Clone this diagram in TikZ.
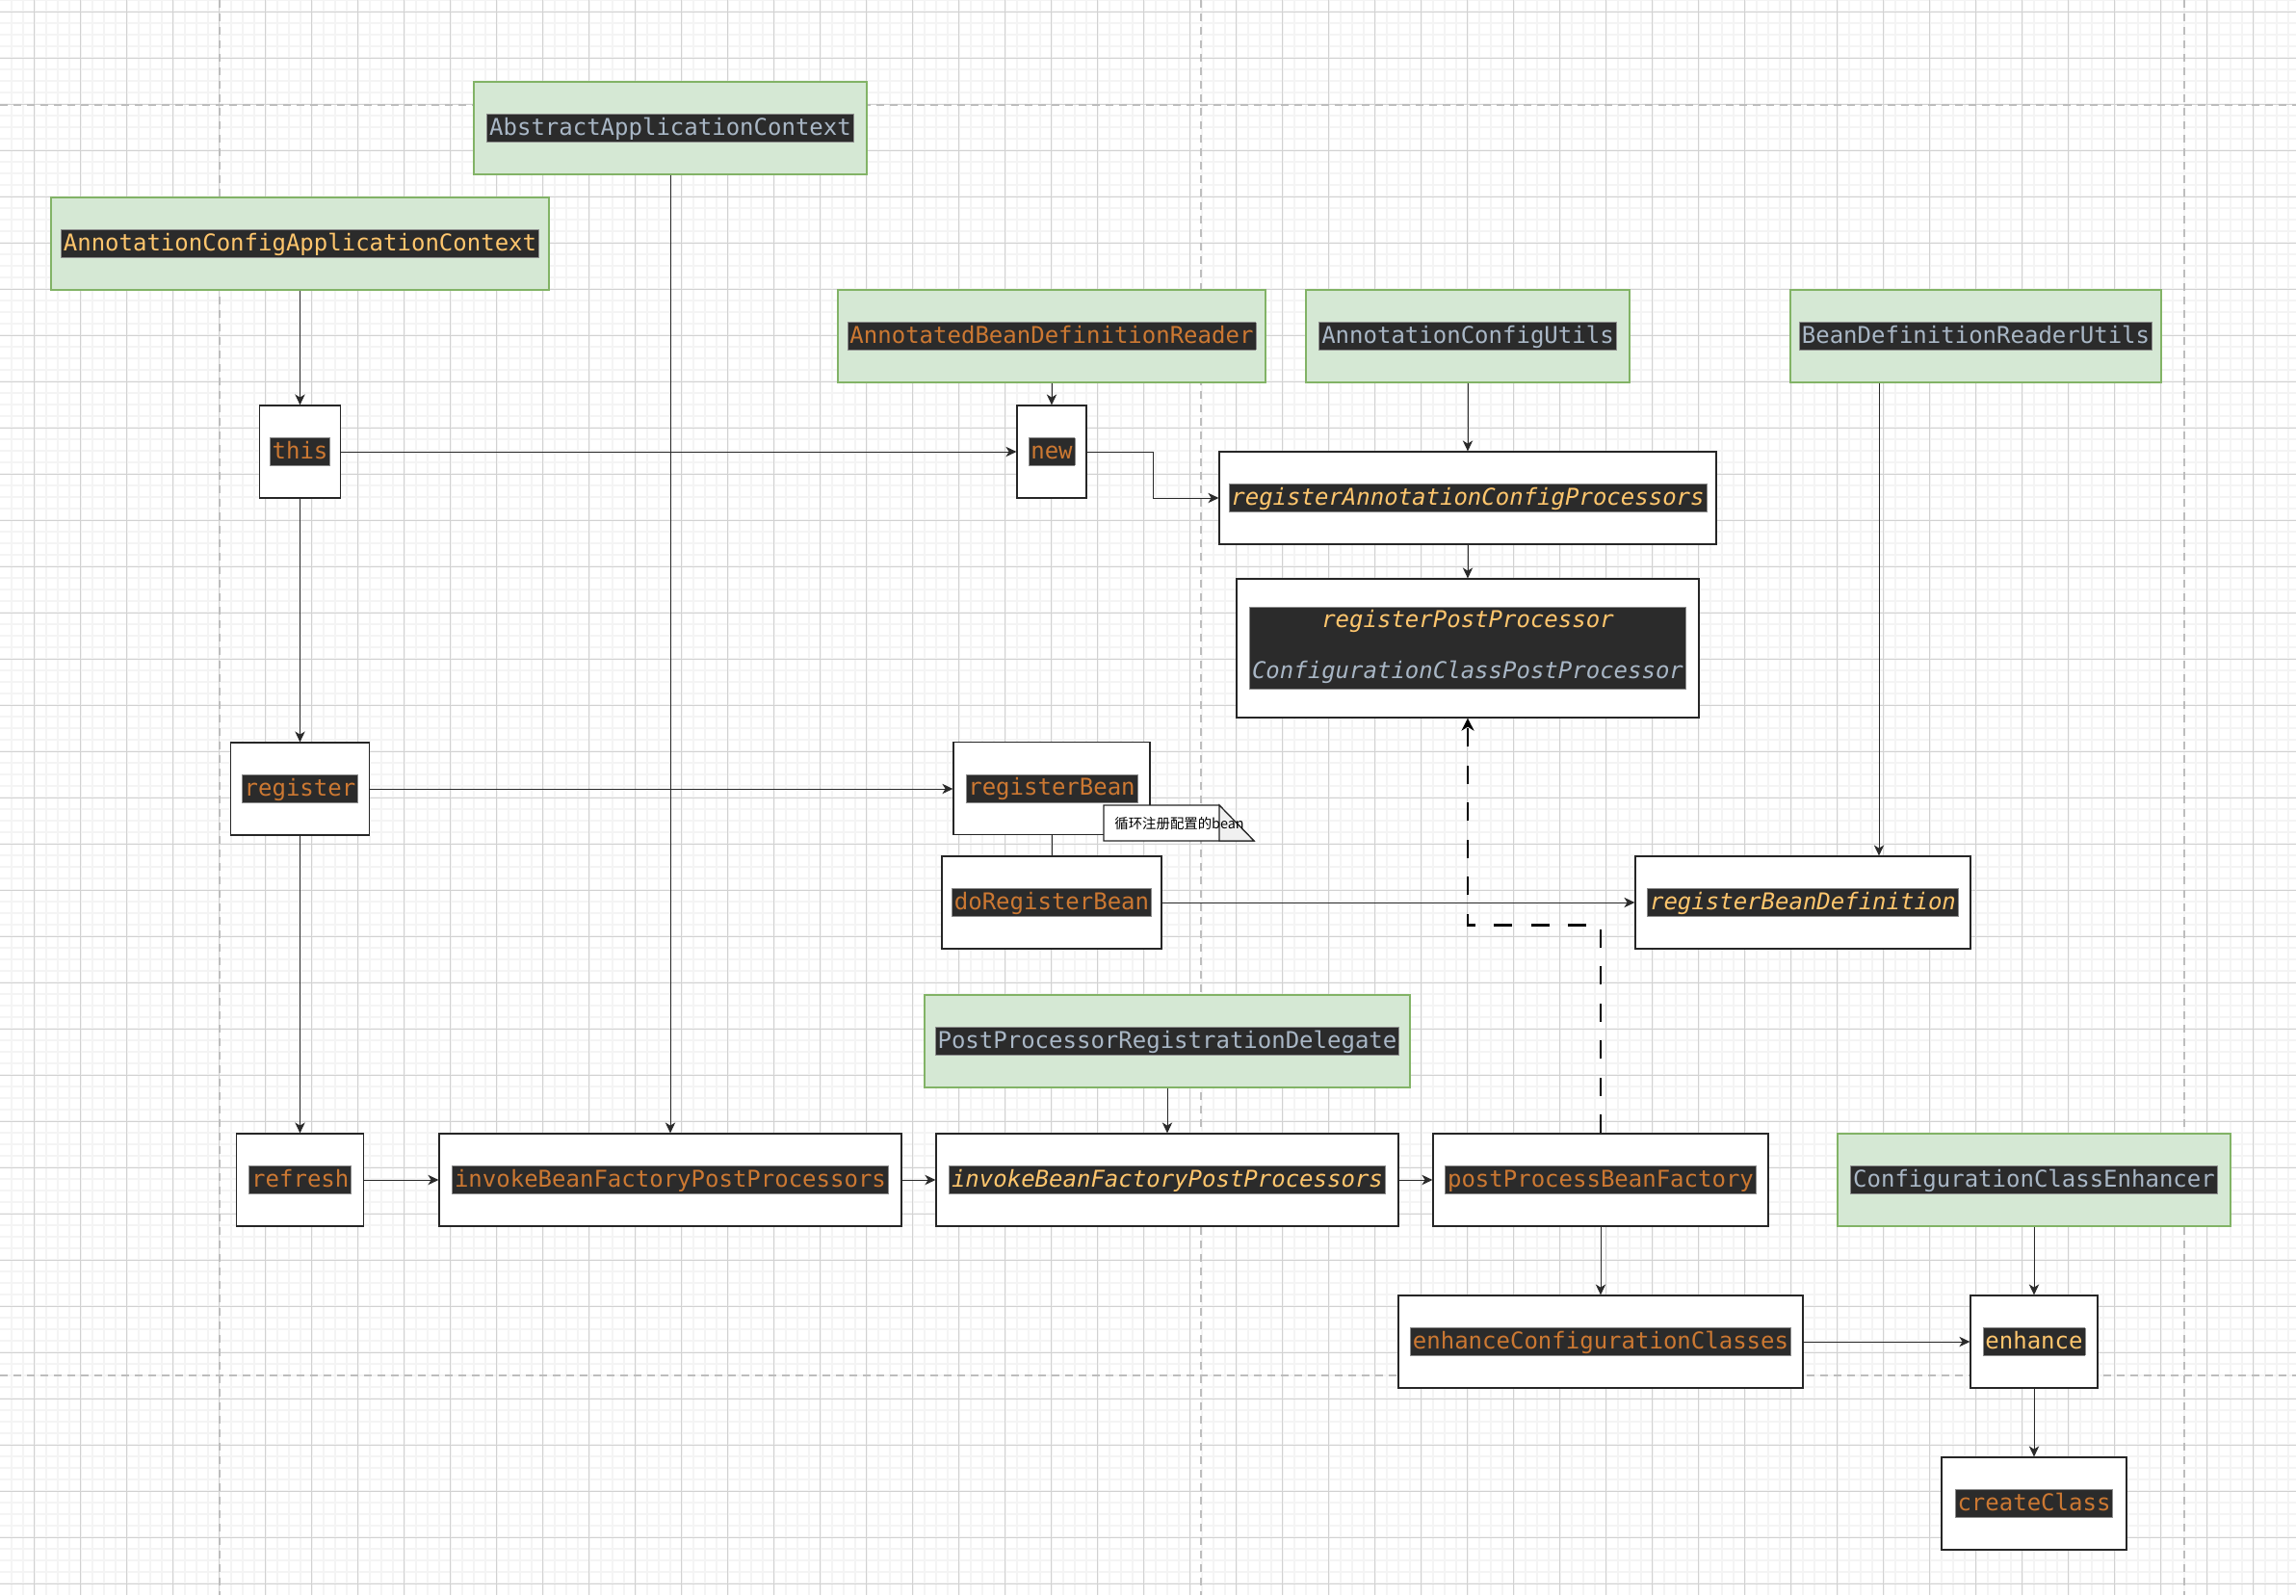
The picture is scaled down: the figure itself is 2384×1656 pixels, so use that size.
\documentclass[tikz,border=0pt]{standalone}
\usepackage{fontspec}
\usepackage{xcolor}
\usetikzlibrary{arrows.meta}
\newfontfamily\codefont{DejaVu Sans Mono}
\newfontfamily\cjkfont{Noto Sans CJK SC}
\definecolor{codebg}{HTML}{2B2B2B}
\definecolor{hlframe}{HTML}{8C8C8C}
\definecolor{corange}{HTML}{CC7832}
\definecolor{cyellow}{HTML}{FFC66D}
\definecolor{cgray}{HTML}{A9B7C6}
\definecolor{gfill}{HTML}{D5E8D4}
\definecolor{gline}{HTML}{82B366}
\definecolor{majorgrid}{HTML}{D2D2D2}
\definecolor{minorgrid}{HTML}{F4F4F4}
\definecolor{pageline}{HTML}{BDBDBD}
\definecolor{boxline}{HTML}{262626}
\definecolor{connline}{HTML}{2A2A2A}
\definecolor{notefold}{HTML}{F0F0F0}
\newcommand{\codehl}[2]{{\setlength{\fboxsep}{1pt}\setlength{\fboxrule}{0.4pt}\fcolorbox{hlframe}{codebg}{\rule[-2.2pt]{0pt}{11.8pt}\textcolor{#1}{\codefont\fontsize{12}{14}\selectfont #2}}}}
\newcommand{\codehli}[2]{{\setlength{\fboxsep}{1pt}\setlength{\fboxrule}{0.4pt}\fcolorbox{hlframe}{codebg}{\rule[-2.2pt]{0pt}{11.8pt}\textcolor{#1}{\codefont\itshape\fontsize{12}{14}\selectfont #2}}}}
\tikzset{
  wbox/.style={draw=boxline, line width=0.6pt, fill=white, inner sep=0pt},
  gbox/.style={draw=gline, line width=0.6pt, fill=gfill, inner sep=0pt},
  sz/.style 2 args={minimum width=#1*0.5pt, minimum height=#2*0.5pt},
  conn/.style={draw=connline, line width=0.5pt},
  arr/.style={conn, -{Stealth[length=5.5pt,width=5.2pt,inset=1.6pt]}},
  dasharr/.style={draw=black, line width=1.3pt, dash pattern=on 9.5pt off 9.75pt, -{Stealth[length=6.5pt,width=6.5pt,inset=2pt]}},
  minorln/.style={draw=minorgrid, line width=0.9pt},
  majorln/.style={draw=majorgrid, line width=0.5pt},
  pageln/.style={draw=pageline, line width=0.75pt, dash pattern=on 4pt off 3pt},
}
\begin{document}
\begin{tikzpicture}[x=0.5pt, y=-0.5pt]
\useasboundingbox (0,0) rectangle (2384,1656);
\fill[white] (0,0) rectangle (2384,1656);
% grid
\foreach \i in {0,...,198} \draw[minorln] ({11.6+12*\i},0) -- ({11.6+12*\i},1656);
\foreach \j in {0,...,137} \draw[minorln] (0,{0.3+12*\j}) -- (2384,{0.3+12*\j});
\foreach \i in {0,...,49} \draw[majorln] ({35.6+48*\i},0) -- ({35.6+48*\i},1656);
\foreach \j in {0,...,34} \draw[majorln] (0,{12.3+48*\j}) -- (2384,{12.3+48*\j});
% page breaks
\draw[pageln] (228,0) -- (228,1656);
\draw[pageln] (1247,0) -- (1247,1656);
\draw[pageln] (2268,0) -- (2268,1656);
\draw[pageln] (0,109) -- (2384,109);
\draw[pageln] (0,1428) -- (2384,1428);

% green class boxes
\node[gbox, sz={408}{96}] (AAC) at (696,133) {\codehl{cgray}{AbstractApplicationContext}};
\node[gbox, sz={517}{96}] (ACAC) at (311.5,253) {\codehl{cyellow}{AnnotationConfigApplicationContext}};
\node[gbox, sz={444}{96}] (ABDR) at (1092,349) {\codehl{corange}{AnnotatedBeanDefinitionReader}};
\node[gbox, sz={336}{96}] (ACU) at (1524,349) {\codehl{cgray}{AnnotationConfigUtils}};
\node[gbox, sz={385}{96}] (BDRU) at (2051.5,349) {\codehl{cgray}{BeanDefinitionReaderUtils}};
\node[gbox, sz={504}{96}] (PPRD) at (1212,1081) {\codehl{cgray}{PostProcessorRegistrationDelegate}};
\node[gbox, sz={408}{96}] (CCE) at (2112,1225) {\codehl{cgray}{ConfigurationClassEnhancer}};

% method boxes
\node[wbox, sz={84}{96}] (this) at (311.5,469) {\codehl{corange}{this}};
\node[wbox, sz={72}{96}] (new) at (1092,469) {\codehl{corange}{new}};
\node[wbox, sz={516}{96}] (RACP) at (1524,517) {\codehli{cyellow}{registerAnnotationConfigProcessors}};
\node[wbox, sz={480}{144}] (RPP) at (1524,673) {{\setlength{\fboxsep}{1pt}\setlength{\fboxrule}{0.4pt}\fcolorbox{hlframe}{codebg}{\codefont\itshape\fontsize{12}{13.25}\selectfont\begin{tabular}{@{}c@{}}\textcolor{cyellow}{registerPostProcessor}\\ \\ \textcolor{cgray}{ConfigurationClassPostProcessor}\end{tabular}}}};
\node[wbox, sz={144}{96}] (register) at (311.5,819) {\codehl{corange}{register}};
\node[wbox, sz={204}{96}] (regBean) at (1092,818.5) {\codehl{corange}{registerBean}};
\node[wbox, sz={228}{96}] (doReg) at (1092,937) {\codehl{corange}{doRegisterBean}};
\node[wbox, sz={348}{96}] (RBD) at (1872,937) {\codehli{cyellow}{registerBeanDefinition}};
\node[wbox, sz={132}{96}] (refresh) at (311.8,1225) {\codehl{corange}{refresh}};
\node[wbox, sz={480}{96}] (invokeA) at (696,1225) {\codehl{corange}{invokeBeanFactoryPostProcessors}};
\node[wbox, sz={480}{96}] (invokeB) at (1212,1225) {\codehli{cyellow}{invokeBeanFactoryPostProcessors}};
\node[wbox, sz={348}{96}] (PPBF) at (1662,1225) {\codehl{corange}{postProcessBeanFactory}};
\node[wbox, sz={420}{96}] (ECC) at (1662,1393) {\codehl{corange}{enhanceConfigurationClasses}};
\node[wbox, sz={132}{96}] (enhance) at (2112,1393) {\codehl{cyellow}{enhance}};
\node[wbox, sz={192}{96}] (createClass) at (2112,1561) {\codehl{corange}{createClass}};

% connectors
\draw[arr] (ACAC.south) -- (this.north);
\draw[arr] (this.south) -- (register.north);
\draw[arr] (register.south) -- (register.south |- refresh.north);
\draw[arr] (this.east) -- (new.west);
\draw[arr] (ABDR.south) -- (new.north);
\draw[arr] (new.east) -- ++(69,0) |- (RACP.west);
\draw[arr] (ACU.south) -- (RACP.north);
\draw[arr] (RACP.south) -- (RPP.north);
\coordinate (bx) at (1951,0);
\draw[arr] (BDRU.south -| bx) -- (RBD.north -| bx);
\draw[arr] (register.east) -- (register.east -| regBean.west);
\draw[conn] (regBean.south) -- (doReg.north);
\draw[arr] (doReg.east) -- (RBD.west);
\draw[arr] (refresh.east) -- (invokeA.west);
\draw[arr] (invokeA.east) -- (invokeB.west);
\draw[arr] (invokeB.east) -- (PPBF.west);
\draw[arr] (AAC.south) -- (invokeA.north);
\draw[arr] (PPRD.south) -- (invokeB.north);
\draw[arr] (PPBF.south) -- (ECC.north);
\draw[arr] (ECC.east) -- (enhance.west);
\draw[arr] (CCE.south) -- (enhance.north);
\draw[arr] (enhance.south) -- (createClass.north);
\draw[dasharr] (PPBF.north) -- ++(0,-216) -| (RPP.south);

% note
\draw[draw=boxline, line width=0.6pt, fill=white] (1146,836) -- (1266,836) -- (1302,873) -- (1146,873) -- cycle;
\draw[draw=boxline, line width=0.6pt, fill=notefold] (1266,836) -- (1302,873) -- (1266,873) -- cycle;
\node[anchor=west, inner sep=0pt, font=\cjkfont\fontsize{7.2}{8}\selectfont] (notetxt) at (1157,855) {循环注册配置的bean};
\end{tikzpicture}
\end{document}
